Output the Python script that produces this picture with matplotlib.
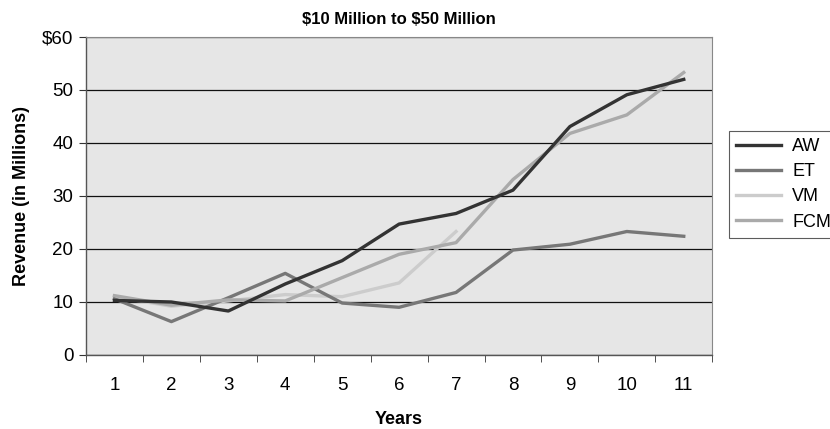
import matplotlib
matplotlib.use("Agg")
import matplotlib.pyplot as plt

years = [1, 2, 3, 4, 5, 6, 7, 8, 9, 10, 11]
aw = [10.3, 10.0, 8.3, 13.4, 17.8, 24.7, 26.7, 31.1, 43.1, 49.1, 52.0]
et = [10.6, 6.3, 10.8, 15.4, 9.8, 9.0, 11.8, 19.8, 20.9, 23.3, 22.4]
vm = [11.0, 9.2, 10.2, 11.4, 11.0, 13.6, 23.3]
fcm = [11.2, 9.4, 10.4, 10.2, 14.6, 19.0, 21.2, 33.1, 41.8, 45.3, 53.3]
yticks = [0, 10, 20, 30, 40, 50, 60]
ytick_labels = ["0", "10", "20", "30", "40", "50", "$60"]

plt.rcParams['font.family'] = ['Liberation Sans', 'DejaVu Sans']

fig = plt.figure(figsize=(8.3, 4.29), dpi=100)
ax = fig.add_axes([0.1036, 0.1725, 0.7545, 0.7413])
ax.set_facecolor('#e6e6e6')

x = list(range(len(years)))
ax.plot(x, aw, color='#333333', lw=2.4, label='AW', zorder=5)
ax.plot(x, et, color='#777777', lw=2.4, label='ET', zorder=4)
ax.plot(x[:len(vm)], vm, color='#cccccc', lw=2.4, label='VM', zorder=3)
ax.plot(x, fcm, color='#aaaaaa', lw=2.4, label='FCM', zorder=4)

ax.set_xlim(-0.5, len(years) - 0.5)
ax.set_ylim(0, 60)
ax.set_yticks(yticks)
ax.set_yticklabels(ytick_labels, fontsize=13.5)
ax.set_xticks(x)
ax.set_xticklabels([str(y) for y in years], fontsize=13.5)
ax.set_xticks([i - 0.5 for i in range(len(years) + 1)], minor=True)
ax.tick_params(axis='x', which='major', length=0, pad=16)
ax.tick_params(axis='x', which='minor', length=5, color='#333333')
ax.tick_params(axis='y', length=5, color='#333333', pad=4)
ax.yaxis.grid(True, color='#111111', lw=0.9)
ax.set_axisbelow(True)
for s in ['top', 'right']:
    ax.spines[s].set_color('#888888')
    ax.spines[s].set_linewidth(0.8)
for s in ['left', 'bottom']:
    ax.spines[s].set_color('#555555')
    ax.spines[s].set_linewidth(1.0)

ax.set_title(r'\$10 Million to \$50 Million', fontsize=12, fontweight='bold', pad=9)
ax.set_xlabel('Years', fontsize=13, fontweight='bold', labelpad=12)
ax.set_ylabel('Revenue (in Millions)', fontsize=13, fontweight='bold', labelpad=9)

leg = fig.legend(loc='upper left', bbox_to_anchor=(729/830, 1 - 131/429), fontsize=13,
                 frameon=True, fancybox=False, edgecolor='#333333', handlelength=2.5,
                 borderpad=0.4, labelspacing=0.45, handletextpad=0.6, borderaxespad=0)
leg.get_frame().set_linewidth(0.8)

fig.savefig('out.png', dpi=100)
